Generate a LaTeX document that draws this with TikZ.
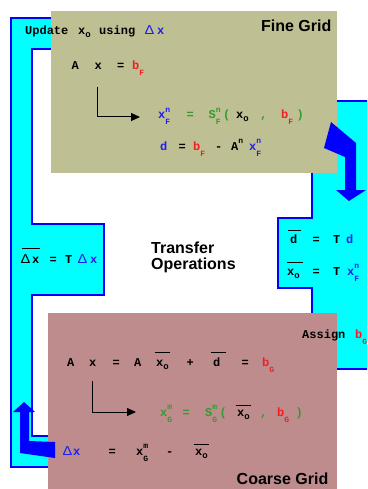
\documentclass[tikz,border=0pt]{standalone}
\usepackage{fontspec}
\setmonofont{Liberation Mono}
\setsansfont{Liberation Sans}
\newfontfamily\dfont{Liberation Sans}
\usetikzlibrary{arrows.meta}
\definecolor{khaki}{RGB}{191,191,148}
\definecolor{rose}{RGB}{190,140,140}
\definecolor{cyanf}{RGB}{0,255,255}
\definecolor{bl}{RGB}{0,0,255}
\definecolor{tb}{RGB}{30,30,240}
\definecolor{tr}{RGB}{240,30,30}
\definecolor{tg}{RGB}{50,155,50}
\newcommand\at[2]{\makebox[0pt][l]{\hspace*{#1pt}#2}}
\newcommand\hi[1]{\raisebox{6.5pt}{\fontsize{8}{8}\selectfont #1}}
\newcommand\dn[1]{\raisebox{-6pt}{\fontsize{8}{8}\selectfont #1}}
\newcommand\dno[1]{\raisebox{-3pt}{\fontsize{9}{9}\selectfont #1}}
\newcommand\ud[2]{\rlap{\hi{#1}}\dn{#2}}
\newcommand\dlt{\scalebox{1.12}[1]{\dfont\mdseries\fontsize{13}{13}\selectfont Δ}}
\newcommand\ovl[3]{\at{#1}{\rule[#2pt]{#3pt}{1.2pt}}}
\tikzset{
 eq/.style={anchor=base west, inner sep=0pt, font=\ttfamily\bfseries\fontsize{12}{12}\selectfont},
 title/.style={inner sep=0pt, font=\sffamily\bfseries\fontsize{16}{17}\selectfont},
 band/.style={fill=cyanf, draw=bl, line width=1.6pt, line join=miter},
 bigarrow/.style={fill=bl, draw=none},
 larrow/.style={line width=1pt, -{Triangle[length=9pt,width=8pt]}},
 panel/.style={inner sep=0pt, anchor=north west, draw=none},
}
\begin{document}
\begin{tikzpicture}[x=1pt,y=-1pt]
\useasboundingbox (0,0) rectangle (367,489);
\clip (0,0) rectangle (367,489);
\fill[white] (0,0) rectangle (367,489);
% cyan bands
\draw[band] (11,18) -- (80,18) -- (80,49) -- (32,49) -- (32,224) -- (104,224) -- (104,295) -- (32,295) -- (32,436) -- (70,436) -- (70,467) -- (11,467) -- cycle;
\draw[band] (312,101) -- (380,101) -- (380,369) -- (312,369) -- (312,288) -- (278,288) -- (278,218) -- (312,218) -- cycle;
% panels
\node[panel, fill=khaki, minimum width=286pt, minimum height=162pt] (fine) at (51,11) {};
\node[panel, fill=rose, minimum width=289pt, minimum height=182pt] (coarse) at (48,313) {};
% big arrows
\fill[bigarrow] (331,122) -- (356,143) -- (356,190) -- (366,190) -- (349,201) -- (336,190) -- (345,190) -- (345,157) -- (324,148) -- cycle;
\fill[bigarrow] (24,402) -- (35,412) -- (29,412) -- (29,441) -- (55,442) -- (55,458) -- (20,453) -- (20,412) -- (13,412) -- cycle;
% fine grid texts
\node[eq] (f1) at (0,35) {\at{24.5}{Update}\at{77.5}{x\dno{o}}\at{98.5}{using}\at{144}{\color{tb}\dlt}\at{156.5}{\color{tb}x}};
\node[eq] (f2) at (0,70) {\at{71}{A}\at{94}{x}\at{116.5}{=}\at{131.5}{\color{tr}b\dn{F}}};
\node[eq] (f3) at (0,119) {\at{157.5}{\color{tb}x\ud{n}{F}}\at{186}{\color{tg}=}\at{208}{\color{tg}S\ud{n}{F}}\at{222.5}{\color{tg}(}\at{235.5}{x\dno{o}}\at{259.5}{\color{tg},}\at{280.5}{\color{tr}b\dn{F}}\at{296}{\color{tg})}};
\node[eq] (f4) at (0,150) {\at{159.5}{\color{tb}d}\at{178}{=}\at{192.5}{\color{tr}b\dn{F}}\at{214.5}{-}\at{230.5}{A\hi{n}}\at{248.5}{\color{tb}x\ud{n}{F}}};
\node[title, anchor=base east] (finet) at (331.5,31.5) {Fine Grid};
\coordinate (fa1) at (97,87);
\coordinate (fa2) at (140,117);
\draw[larrow] (fa1) |- (fa2);
% right transfer texts
\node[eq] (r1) at (0,243) {\ovl{287}{12}{13}\at{289.5}{d}\at{312}{=}\at{332.5}{T}\at{345.5}{\color{tb}d}};
\node[eq] (r2) at (0,275) {\ovl{286.5}{12}{16}\at{286.5}{x\dno{o}}\at{312}{=}\at{332.5}{T}\at{346.5}{\color{tb}x\ud{n}{F}}};
% left transfer text
\node[eq] (l1) at (0,263) {\ovl{21}{14}{18}\at{20}{\dlt}\at{31.5}{x}\at{49}{=}\at{64.5}{T}\at{77}{\color{tb}\dlt}\at{89.5}{\color{tb}x}};
\node[title, anchor=base west] (tr1) at (151,253) {Transfer};
\node[title, anchor=base west] (tr2) at (151,269) {Operations};
% coarse grid texts
\node[eq] (as) at (0,338) {\at{301.5}{Assign}\at{354.5}{\color{tr}b\dn{G}}};
\node[eq] (c1) at (0,366) {\at{66.5}{A}\at{88.5}{x}\at{112}{=}\at{133.5}{A}\ovl{154}{13}{15}\at{155.5}{x\dno{o}}\at{186}{+}\ovl{210}{13}{15}\at{212.5}{d}\at{241}{=}\at{261.5}{\color{tr}b\dn{G}}};
\node[eq] (c2) at (0,416) {\at{159.5}{\color{tg}x\ud{m}{G}}\at{182}{\color{tg}=}\at{204.5}{\color{tg}S\ud{m}{G}}\at{219}{\color{tg}(}\ovl{235}{10}{15}\at{236.5}{x\dno{o}}\at{259.5}{\color{tg},}\at{276.5}{\color{tr}b\dn{G}}\at{295}{\color{tg})}};
\node[eq] (c3) at (0,455) {\at{62}{\color{tb}\dlt}\at{72.5}{\color{tb}x}\at{108}{=}\at{135.5}{x\ud{m}{G}}\at{165.5}{-}\ovl{193}{10}{15}\at{194.5}{x\dno{o}}};
\node[title, anchor=base east] (coarset) at (328.5,484) {Coarse Grid};
\coordinate (ca1) at (92,381);
\coordinate (ca2) at (136,412);
\draw[larrow] (ca1) |- (ca2);
\end{tikzpicture}
\end{document}
